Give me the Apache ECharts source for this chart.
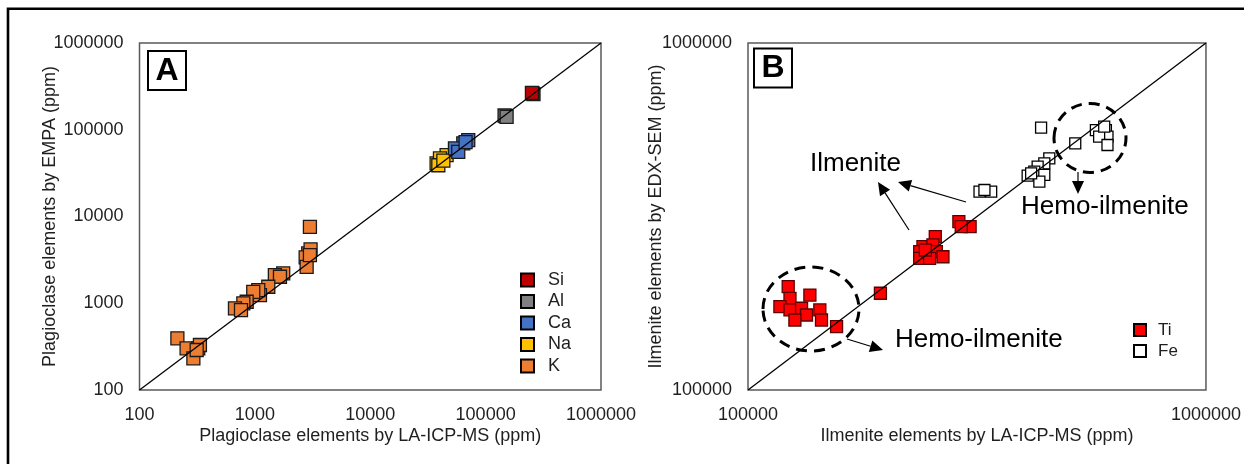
<!DOCTYPE html>
<html>
<head>
<meta charset="utf-8">
<script src="https://cdn.jsdelivr.net/npm/echarts@6/dist/echarts.min.js"></script>
<style>
  html, body { margin: 0; padding: 0; background: #fff; }
  #chart { width: 1244px; height: 464px; }
</style>
</head>
<body>
<div id="chart"></div>
<script>
// panel A: plagioclase, [LA-ICP-MS, EMPA] in ppm
var siA = [[255000, 262000], [260000, 258000], [252000, 266000]];
var alA = [[149000, 143500], [146000, 146000], [152000, 141000]];
var caA = [[64000, 69500], [70700, 75900], [54200, 60900], [57900, 55600], [67000, 72000]];
var naA = [[37600, 40900], [45900, 50900], [40200, 46700], [38900, 39000], [43000, 44000]];
var kA = [
  [3000, 7610], [2900, 3760], [3040, 4180], [2755, 3380], [2810, 2630], [3000, 3590],
  [1760, 2210], [1490, 2110], [1650, 2020], [1307, 1550], [1107, 1240], [1070, 1420],
  [968, 1356], [849, 1040], [794, 995], [672, 873], [758, 835],
  [213, 394], [256, 302], [323, 302], [334, 330], [293, 232], [313, 289]
];

// panel B: ilmenite, [LA-ICP-MS, EDX-SEM] in ppm
var tiB = [
  [122400, 198500], [136500, 187800], [123500, 183700], [117400, 173800], [123500, 170100],
  [130900, 172000], [143500, 170100], [134200, 164500], [126600, 159100], [144700, 159100],
  [156100, 152200], [194600, 190000],
  [256400, 276600], [241000, 258800], [253400, 261800], [237100, 250400], [257800, 250400],
  [266500, 242100], [237100, 239600], [249200, 239600], [243900, 253200],
  [288700, 305500], [305500, 295600], [292200, 295600]
];
var feB = [
  [436500, 570000], [518300, 514000], [575000, 561000], [604600, 561000], [609500, 537000],
  [584400, 537000], [609500, 508200], [599500, 574000],
  [454900, 465300], [443600, 449900], [429000, 440100], [408000, 414800], [421800, 425800],
  [443600, 416600], [432700, 398500], [415200, 421200],
  [320300, 372900], [339600, 372900], [328300, 377000]
];

var ticksA = [100, 1000, 10000, 100000, 1000000];
var ticksB = [100000, 1000000];

var font = '"Liberation Sans", Arial, sans-serif';
var txt = '#1f1f1f';

function axis(grid, lo, hi, name, gap, isY) {
  return {
    type: 'log', logBase: 10, gridIndex: grid, min: lo, max: hi,
    name: name, nameLocation: 'middle', nameGap: gap, nameMoveOverlap: false,
    nameTextStyle: { fontFamily: font, fontSize: 18, color: txt },
    axisLine: { show: false },
    axisTick: { show: false },
    splitLine: { show: false },
    axisLabel: {
      fontFamily: font, fontSize: 18, color: txt, margin: isY ? 16 : 16,
      formatter: function (v) { return String(Math.round(v)); }
    }
  };
}

function sq(name, data, color, border, size, xi) {
  return {
    name: name, type: 'scatter', xAxisIndex: xi, yAxisIndex: xi,
    symbol: 'rect', symbolSize: size, data: data,
    itemStyle: { color: color, borderColor: border, borderWidth: 1.3, opacity: 1 },
    z: 2
  };
}

function arrow(x1, y1, x2, y2) {
  var a = Math.atan2(y2 - y1, x2 - x1), L = 13, W = 6;
  var bx = x2 - L * Math.cos(a), by = y2 - L * Math.sin(a);
  var px = -Math.sin(a) * W, py = Math.cos(a) * W;
  return [
    { type: 'line', shape: { x1: x1, y1: y1, x2: bx, y2: by }, style: { stroke: '#000', lineWidth: 1.2 } },
    { type: 'polygon', shape: { points: [[x2, y2], [bx + px, by + py], [bx - px, by - py]] }, style: { fill: '#000' } }
  ];
}

function ellipse(cx, cy, rx, ry) {
  return {
    type: 'ellipse', shape: { cx: cx, cy: cy, rx: rx, ry: ry }, z: 10,
    style: { fill: 'none', stroke: '#000', lineWidth: 3, lineDash: [11, 7] }
  };
}

function note(x, y, s) {
  return {
    type: 'text', x: x, y: y, z: 10,
    style: { text: s, fontFamily: font, fontSize: 26, fill: '#000', verticalAlign: 'middle' }
  };
}

function labelBox(x, y, s) {
  return {
    type: 'group', z: 10,
    children: [
      { type: 'rect', shape: { x: x, y: y, width: 38, height: 39 }, style: { fill: '#fff', stroke: '#000', lineWidth: 2 } },
      { type: 'text', x: x + 19, y: y + 20, style: { text: s, fontFamily: font, fontWeight: 'bold', fontSize: 32, fill: '#000', align: 'center', verticalAlign: 'middle' } }
    ]
  };
}

var chart = echarts.init(document.getElementById('chart'), null, { renderer: 'canvas' });

var graphics = [
  { type: 'rect', shape: { x: 8, y: 8.7, width: 1400, height: 600 }, style: { fill: 'none', stroke: '#000', lineWidth: 2.6 }, z: 10 },
  labelBox(148, 51, 'A'),
  labelBox(754, 48.5, 'B'),
  ellipse(811, 309, 48, 42),
  ellipse(1090, 138, 36, 34.5),
  note(810, 164, 'Ilmenite'),
  note(1021, 207, 'Hemo-ilmenite'),
  note(895, 340, 'Hemo-ilmenite')
].concat(
  arrow(966, 202, 898, 182),
  arrow(909, 230, 878, 182),
  arrow(1078, 172, 1078, 194),
  arrow(847, 339, 883, 350)
);

chart.setOption({
  animation: false,
  backgroundColor: '#fff',
  grid: [
    { left: 139.5, top: 43, width: 461.5, height: 347, show: true, borderColor: '#595959', borderWidth: 1.5, backgroundColor: 'transparent' },
    { left: 748, top: 43, width: 459, height: 347, show: true, borderColor: '#595959', borderWidth: 1.5, backgroundColor: 'transparent' }
  ],
  xAxis: [
    axis(0, ticksA[0], ticksA[ticksA.length - 1], 'Plagioclase elements by LA-ICP-MS (ppm)', 37, false),
    axis(1, ticksB[0], ticksB[ticksB.length - 1], 'Ilmenite elements by LA-ICP-MS (ppm)', 37, false)
  ],
  yAxis: [
    axis(0, ticksA[0], ticksA[ticksA.length - 1], 'Plagioclase elements by EMPA (ppm)', 80, true),
    axis(1, ticksB[0], ticksB[ticksB.length - 1], 'Ilmenite elements by EDX-SEM (ppm)', 83, true)
  ],
  legend: [
    {
      data: ['Si', 'Al', 'Ca', 'Na', 'K'], orient: 'vertical', left: 515, top: 266,
      icon: 'rect', itemWidth: 13, itemHeight: 13, itemGap: 3.5,
      itemStyle: { borderColor: '#000', borderWidth: 2 },
      textStyle: { fontFamily: font, fontSize: 18, color: txt, padding: [0, 0, 0, 9] }
    },
    {
      data: ['Ti', 'Fe'], orient: 'vertical', left: 1128, top: 316.5,
      icon: 'rect', itemWidth: 12, itemHeight: 12, itemGap: 4,
      itemStyle: { borderColor: '#000', borderWidth: 2 },
      textStyle: { fontFamily: font, fontSize: 17, color: txt, padding: [0, 0, 0, 7] }
    }
  ],
  graphic: graphics,
  series: [
    sq('K', kA, '#ED7D31', '#1a1a1a', 13, 0),
    sq('Na', naA, '#FFC000', '#1a1a1a', 13, 0),
    sq('Ca', caA, '#4472C4', '#1a1a1a', 13, 0),
    sq('Al', alA, '#808080', '#1a1a1a', 13, 0),
    sq('Si', siA, '#C00000', '#1a1a1a', 13, 0),
    sq('Ti', tiB, '#FF0000', '#5a0000', 12, 1),
    sq('Fe', feB, '#FFFFFF', '#000000', 11, 1),
    {
      type: 'line', xAxisIndex: 0, yAxisIndex: 0, symbol: 'none', silent: true, z: 5,
      data: [[ticksA[0], ticksA[0]], [ticksA[4], ticksA[4]]],
      lineStyle: { color: '#000', width: 1.3 }
    },
    {
      type: 'line', xAxisIndex: 1, yAxisIndex: 1, symbol: 'none', silent: true, z: 5,
      data: [[ticksB[0], ticksB[0]], [ticksB[1], ticksB[1]]],
      lineStyle: { color: '#000', width: 1.3 }
    }
  ]
});
</script>
</body>
</html>
